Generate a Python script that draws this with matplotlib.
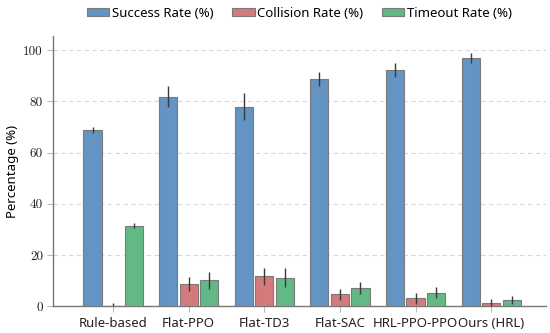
import numpy as np
import matplotlib
matplotlib.use("Agg")
import matplotlib.pyplot as plt

metodos = ["Rule-based", "Flat-PPO", "Flat-TD3", "Flat-SAC", "HRL-PPO-PPO", "Ours (HRL)"]
exito = [68.8, 81.8, 77.9, 88.8, 92.3, 96.9]
exito_err = [1.2, 4.2, 5.3, 2.7, 2.7, 2.0]
colision = [0.0, 8.8, 11.7, 4.7, 3.1, 1.4]
colision_err = [1.3, 2.8, 3.2, 2.2, 2.3, 1.5]
timeout = [31.4, 10.1, 11.2, 7.2, 5.3, 2.5]
timeout_err = [1.0, 3.3, 3.7, 2.2, 2.2, 1.6]

fig, ax = plt.subplots(figsize=(5.5, 3.33), dpi=100)
fig.subplots_adjust(left=0.097, right=0.992, bottom=0.08, top=0.892)

x = np.arange(len(metodos))
ancho = 0.24
paso = 0.272
err_kw = dict(ecolor="#3a3a3a", elinewidth=1.0, capsize=0)
series = [
    (exito, exito_err, "#6394C4", "Success Rate (%)"),
    (colision, colision_err, "#D47A7D", "Collision Rate (%)"),
    (timeout, timeout_err, "#62B985", "Timeout Rate (%)"),
]
for i, (vals, errs, color, nombre) in enumerate(series):
    ax.bar(x + (i - 1) * paso, vals, ancho, yerr=errs, color=color,
           edgecolor="#7a7a7a", linewidth=0.8, label=nombre, error_kw=err_kw, zorder=3)

ax.set_xlim(-0.79, 5.72)
ax.set_ylim(0, 105.5)
ax.set_yticks([0, 20, 40, 60, 80, 100])
ax.set_xticks(x)
ax.set_xticklabels(metodos, fontsize=9.5, family="Noto Sans")
for t in ax.get_yticklabels():
    t.set_family("cmr10")
    t.set_fontsize(9.5)
ax.set_ylabel("Percentage (%)", fontsize=9.5, family="Noto Sans", labelpad=3)

ax.grid(axis="y", linestyle=(0, (4, 3)), color="#d9d9d9", linewidth=0.8, zorder=0)
for lado in ["top", "right"]:
    ax.spines[lado].set_visible(False)
for lado in ["left", "bottom"]:
    ax.spines[lado].set_color("#777777")
    ax.spines[lado].set_linewidth(1.0)
ax.tick_params(axis="both", colors="#bbbbbb", labelcolor="#222222", length=4, width=0.8)

ax.legend(loc="lower center", bbox_to_anchor=(0.5, 1.04), ncol=3, frameon=False,
          prop={"family": "Noto Sans", "size": 9.5}, handlelength=1.7, handleheight=0.55,
          handletextpad=0.2, columnspacing=1.4, borderaxespad=0)

fig.savefig("out.png", dpi=100)
